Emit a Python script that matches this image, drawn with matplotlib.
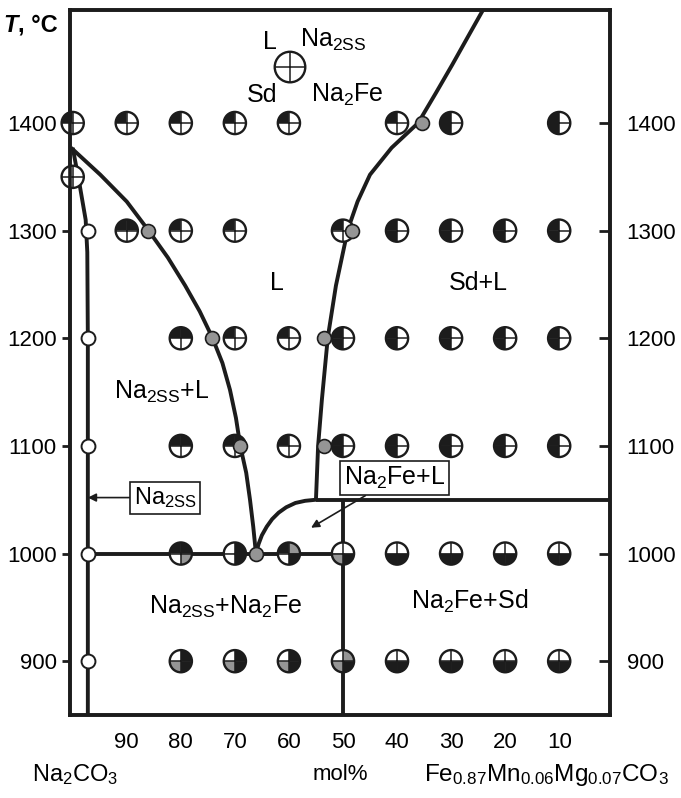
import matplotlib
matplotlib.use("Agg")
import matplotlib.pyplot as plt
from matplotlib.path import Path

plt.rcParams['font.family'] = ['Liberation Sans', 'DejaVu Sans']
plt.rcParams['mathtext.default'] = 'regular'

DARK = '#1c1c1c'
GREY = '#959595'
FILL = {'k': DARK, 'g': GREY, 'w': 'white'}

# experiment symbols: composition (mol%), temperature, quadrant fill TL=L, TR=Na2ss, BL=Sd, BR=Na2Fe
exp_x = [100, 90, 80, 70, 60, 40, 30, 10,
         100,
         90, 80, 70, 50, 40, 30, 20, 10,
         80, 70, 60, 50, 40, 30, 20, 10,
         80, 70, 60, 50, 40, 30, 20, 10,
         80, 70, 60, 50, 40, 30, 20, 10,
         80, 70, 60, 50, 40, 30, 20, 10]
exp_t = [1400] * 8 + [1350] + [1300] * 8 + [1200] * 8 + [1100] * 8 + [1000] * 8 + [900] * 8
exp_code = ['kwww', 'kwww', 'kwww', 'kwww', 'kwww', 'kwww', 'kwkw', 'kwkw',
            'wwww',
            'kkww', 'kwww', 'kwww', 'kwww', 'kwkw', 'kwkw', 'kwkw', 'kwkw',
            'kkww', 'kwww', 'kwww', 'kwkw', 'kwkw', 'kwkw', 'kwkw', 'kwkw',
            'kkww', 'kkww', 'kwww', 'kwkw', 'kwkw', 'kwkw', 'kwkw', 'kwkw',
            'kkwg', 'wkwk', 'kgwk', 'wwgk', 'wwkk', 'wwkk', 'wwkk', 'wwkk',
            'wkgk', 'wkgk', 'wkgk', 'wggk', 'wwkk', 'wwkk', 'wwkk', 'wwkk']

# Na2ss solid solution runs (open circles)
ss_x = [97.2, 97.2, 97.2, 97.2, 97.2]
ss_t = [1300, 1200, 1100, 1000, 900]

# liquidus points (grey dots)
liq_x = [86.1, 74.2, 69.0, 66.1, 35.4, 48.3, 53.5, 53.5]
liq_t = [1300, 1200, 1100, 1000, 1400, 1300, 1200, 1100]

# phase boundaries
solvus_x = [100.0, 98.8, 97.6, 97.3, 97.2, 97.2]
solvus_t = [1377, 1345, 1310, 1280, 1200, 850]
liq_na_x = [100.3, 94.9, 90.0, 86.1, 82.4, 79.2, 76.5, 74.2, 72.3, 70.9, 69.8, 69.0, 67.9, 67.2, 66.6, 66.1]
liq_na_t = [1377, 1352, 1327, 1301, 1275, 1249, 1225, 1201, 1177, 1152, 1126, 1100, 1075, 1050, 1025, 1000]
liq_sd_x = [55.0, 54.6, 53.9, 52.8, 51.3, 49.1, 47.3, 45.0, 41.0, 36.1, 32.8, 29.8, 26.9, 24.1]
liq_sd_t = [1050, 1100, 1143, 1201, 1249, 1301, 1327, 1352, 1377, 1400, 1428, 1454, 1480, 1505]
cot_x = [66.1, 65.6, 65.0, 64.1, 63.1, 61.9, 60.5, 58.8, 57.0, 55.0]
cot_t = [1000, 1009, 1017, 1025, 1032, 1038, 1043, 1047, 1049, 1050]
eut_x = [97.2, 50]
eut_t = [1000, 1000]
per_x = [55.0, 0.6]
per_t = [1050, 1050]
v50_x = [50, 50]
v50_t = [850, 1050]

xticks = [90, 80, 70, 60, 50, 40, 30, 20, 10]
yticks = [900, 1000, 1100, 1200, 1300, 1400]

QUADS = [(90, 180), (0, 90), (180, 270), (270, 360)]  # TL, TR, BL, BR


def draw_symbols(ax, xs, ys, codes, size):
    for q, (a1, a2) in enumerate(QUADS):
        cols = [FILL[c[q]] for c in codes]
        ax.scatter(xs, ys, s=size ** 2, marker=Path.wedge(a1, a2), c=cols,
                   edgecolors='none', zorder=5, clip_on=False)
    ax.scatter(xs, ys, s=size ** 2, marker='+', c=DARK, linewidths=1.1, zorder=6, clip_on=False)
    ax.scatter(xs, ys, s=size ** 2, facecolors='none', edgecolors=DARK, linewidths=1.7,
               zorder=7, clip_on=False)


fig = plt.figure(figsize=(6.81, 7.98), dpi=100)
ax = fig.add_axes([70 / 681, 1 - 715 / 798, 540 / 681, 705 / 798])
ax.set_xlim(100.5, 0.6)
ax.set_ylim(850, 1505)

lw = 2.8
for xs, ts in [(solvus_x, solvus_t), (liq_na_x, liq_na_t), (liq_sd_x, liq_sd_t),
               (cot_x, cot_t), (eut_x, eut_t), (per_x, per_t), (v50_x, v50_t)]:
    ax.plot(xs, ts, color=DARK, lw=lw, solid_capstyle='butt', solid_joinstyle='round', zorder=3)

draw_symbols(ax, exp_x, exp_t, exp_code, 16)
ax.scatter(ss_x, ss_t, s=10 ** 2, facecolors='white', edgecolors=DARK, linewidths=1.4, zorder=6)
ax.scatter(liq_x, liq_t, s=10 ** 2, facecolors=GREY, edgecolors=DARK, linewidths=1.2, zorder=8)

fs = 16   # tick labels
fl = 18   # phase labels

# legend symbol
draw_symbols(ax, [59.8], [1452], ['wwww'], 22)
ax.text(63.6, 1475, 'L', fontsize=fl, ha='center', va='center')
ax.text(51.8, 1477, 'Na$_{2SS}$', fontsize=fl, ha='center', va='center')
ax.text(65.0, 1426, 'Sd', fontsize=fl, ha='center', va='center')
ax.text(49.2, 1426, 'Na$_2$Fe', fontsize=fl, ha='center', va='center')

# region labels
ax.text(62.2, 1251, 'L', fontsize=fl, ha='center', va='center')
ax.text(25.0, 1251, 'Sd+L', fontsize=fl, ha='center', va='center')
ax.text(83.5, 1150, 'Na$_{2SS}$+L', fontsize=fl, ha='center', va='center')
ax.text(71.8, 950, 'Na$_{2SS}$+Na$_2$Fe', fontsize=fl, ha='center', va='center')
ax.text(26.5, 956, 'Na$_2$Fe+Sd', fontsize=fl, ha='center', va='center')

box = dict(boxstyle='square,pad=0.15', fc='white', ec=DARK, lw=1.2)
arrow = dict(arrowstyle='-|>', color=DARK, lw=1.2, mutation_scale=12, shrinkA=0, shrinkB=0)
ax.annotate('Na$_{2SS}$', xy=(97.2, 1052), xytext=(82.9, 1052), fontsize=17,
            ha='center', va='center', bbox=box, arrowprops=arrow, zorder=9)
ax.annotate('Na$_2$Fe+L', xy=(55.9, 1024), xytext=(40.4, 1070), fontsize=fl,
            ha='center', va='center', bbox=box, arrowprops=arrow, zorder=9)

ax.set_xticks(xticks)
ax.set_xticklabels([str(v) for v in xticks])
ax.set_yticks(yticks)
ax.tick_params(axis='both', labelsize=fs, direction='out', length=6, width=2, color=DARK)
ax.tick_params(axis='x', length=0, pad=12)
for sp in ax.spines.values():
    sp.set_linewidth(2.6)
    sp.set_color(DARK)

ax2 = ax.twinx()
ax2.set_ylim(ax.get_ylim())
ax2.set_yticks(yticks)
ax2.tick_params(axis='y', labelsize=fs, direction='in', length=8, width=2, color=DARK, pad=12)
for sp in ax2.spines.values():
    sp.set_linewidth(2.6)
    sp.set_color(DARK)

t_lbl = fig.text(3 / 681, 1 - 25 / 798, 'T', fontsize=17, va='center', ha='left',
                 fontweight='bold', fontstyle='italic')
fig.canvas.draw()
bb = t_lbl.get_window_extent()
fig.text((bb.x1 + 1) / fig.bbox.width, 1 - 25 / 798, ', °C', fontsize=17, va='center',
         ha='left', fontweight='bold')
fig.text(75 / 681, 1 - 775 / 798, 'Na$_2$CO$_3$', fontsize=17, ha='center', va='center')
fig.text(340 / 681, 1 - 775 / 798, 'mol%', fontsize=fs, ha='center', va='center')
fig.text(546 / 681, 1 - 775 / 798, 'Fe$_{0.87}$Mn$_{0.06}$Mg$_{0.07}$CO$_3$', fontsize=17.5,
         ha='center', va='center')

fig.savefig('out.png', dpi=100)
